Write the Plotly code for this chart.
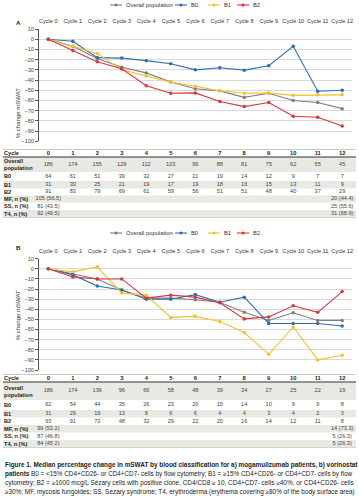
import plotly.graph_objects as go

W, H = 359, 500

# ---------------- data ----------------
cycles = list(range(13))
cycle_labels = [f"Cycle {c}" for c in cycles]
series_names = ["Overall population", "B0", "B1", "B2"]
series_colors = ["#7f7f7f", "#2e6fb4", "#f2c12e", "#d7373b"]

# Panel A (mogamulizumab) median % change in mSWAT
a_overall = [0, -7, -19, -27.5, -33, -42, -48.5, -50.6, -57, -53, -60, -62, -68]
a_b0 = [0, -2, -18, -18.5, -21, -24, -30, -28, -30.3, -26, -7, -51, -50]
a_b1 = [0, -7, -14, -30, -36, -42, -46, -50.6, -53, -52.6, -55, -54.5, -54.5]
a_b2 = [0, -11, -22, -29, -45.5, -53, -52.6, -61, -66, -62, -75.5, -76.5, -85]

# Panel B (vorinostat)
b_overall = [0, -5, -10, -21, -29, -29, -30.5, -33, -43, -51, -43.5, -51, -51]
b_b0 = [0, -6, -17, -21, -30, -30, -25.5, -33, -28, -54, -54, -54, -56.5]
b_b1 = [0, -3, 2, -24, -26, -48, -47, -52, -63, -84.5, -57.5, -90, -85.5]
b_b2 = [0, -8, -10, -10, -29, -26, -28, -33.5, -49.5, -47.5, -36.5, -43, -22.5]

y_ticks = list(range(-100, 11, 10))

# Table A
ta_overall = [186, 174, 155, 129, 112, 103, 96, 88, 81, 75, 62, 55, 45]
ta_b0 = [64, 61, 51, 39, 32, 27, 21, 19, 14, 12, 9, 7, 7]
ta_b1 = [31, 30, 25, 21, 19, 17, 19, 18, 16, 15, 13, 11, 9]
ta_b2 = [91, 83, 79, 69, 61, 59, 56, 51, 51, 48, 40, 37, 29]
ta_mf = ["105 (56.5)"] + [""] * 11 + ["20 (44.4)"]
ta_ss = ["81 (43.5)"] + [""] * 11 + ["25 (55.6)"]
ta_t4 = ["92 (49.5)"] + [""] * 11 + ["31 (68.9)"]

# Table B
tb_overall = [186, 174, 136, 96, 66, 58, 48, 39, 34, 27, 25, 22, 19]
tb_b0 = [62, 54, 44, 35, 26, 23, 20, 15, 14, 10, 9, 9, 8]
tb_b1 = [31, 29, 19, 13, 8, 6, 6, 4, 4, 3, 4, 2, 3]
tb_b2 = [93, 91, 73, 48, 32, 29, 22, 20, 16, 14, 12, 11, 8]
tb_mf = ["99 (53.2)"] + [""] * 11 + ["14 (73.3)"]
tb_ss = ["87 (46.8)"] + [""] * 11 + ["5 (26.3)"]
tb_t4 = ["84 (45.2)"] + [""] * 11 + ["5 (26.3)"]

row_labels = ["Cycle", "Overall<br>population", "B0", "B1", "B2",
              "MF, n (%)", "SS, n (%)", "T4, n (%)"]

caption_lines = [
    "<b>Figure 1. Median percentage change in mSWAT by blood classification for a) mogamulizumab patients, b) vorinostat</b>",
    "<b>patients</b> B0 = &lt;15% CD4+CD26- or CD4+CD7- cells by flow cytometry; B1 = \u226515% CD4+CD26- or CD4+CD7- cells by flow",
    "cytometry; B2 = \u22651000 mcg/L S\u00e9zary cells with positive clone, CD4/CD8 \u2265 10, CD4+CD7- cells \u226540%, or CD4+CD26- cells",
    "\u226530%; MF, mycosis fungoides; SS, S\u00e9zary syndrome; T4, erythroderma (erythema covering \u226580% of the body surface area)",
]

# ---------------- layout constants (pixels) ----------------
FONT = "Liberation Sans, Arial, sans-serif"
X_LEFT, X_RIGHT = 39, 352
X_RANGE = [-0.38, 12.4]
A_TOP, A_BOT = 29, 141.3
B_TOP, B_BOT = 258.7, 370
TA_EDGES = [149.5, 157, 172, 181, 188.5, 195.5, 202.5, 210, 217.5]
TB_EDGES = [374.5, 382, 400, 410, 417.5, 425, 432.5, 440, 447.5]
CAPTION_Y = [465, 474, 483, 492]
CAPTION_SIZE = [6.4, 6.35, 6.45, 6.4]
LEGEND_Y = [5, 233]
LEGEND_KEY_X = [110, 175, 208, 237]   # left end of each legend key line
KEY_LEN = 12


def py(px):
    return 1 - px / H


def px_x(px):
    return px / W


fig = go.Figure()

# ---------------- line charts ----------------
for xa, ya, data in [
    ("x", "y", [a_overall, a_b0, a_b1, a_b2]),
    ("x2", "y2", [b_overall, b_b0, b_b1, b_b2]),
]:
    for name, col, vals in zip(series_names, series_colors, data):
        fig.add_trace(go.Scatter(
            x=cycles, y=vals, name=name, mode="lines+markers",
            line=dict(color=col, width=1.1),
            marker=dict(color=col, size=3.5),
            xaxis=xa, yaxis=ya, showlegend=False, hoverinfo="skip",
        ))

xcommon = dict(domain=[px_x(X_LEFT), px_x(X_RIGHT)], range=X_RANGE, side="top",
               tickvals=cycles, ticktext=cycle_labels, showgrid=False, zeroline=False,
               showline=False, ticks="", ticklabelstandoff=4, tickangle=0, automargin=False,
               tickfont=dict(size=5.6, color="#333", family=FONT), fixedrange=True)
ycommon = dict(range=[-100, 10], tickvals=y_ticks, showgrid=True, gridcolor="#d9d9d9",
               gridwidth=0.8, zeroline=False, showline=True, linecolor="#555", linewidth=0.8,
               ticks="outside", ticklen=3, tickcolor="#555", tickwidth=0.8, automargin=False,
               tickfont=dict(size=5.6, color="#444", family=FONT), fixedrange=True)

fig.update_layout(
    xaxis=dict(**xcommon, anchor="y"),
    yaxis=dict(**ycommon, domain=[py(A_BOT), py(A_TOP)], anchor="x"),
    xaxis2=dict(**xcommon, anchor="y2"),
    yaxis2=dict(**ycommon, domain=[py(B_BOT), py(B_TOP)], anchor="x2"),
)

annotations = []
shapes = []

# ---------------- legends (one per panel) ----------------
for ly in LEGEND_Y:
    for name, col, kx in zip(series_names, series_colors, LEGEND_KEY_X):
        shapes.append(dict(type="line", xref="paper", yref="paper",
                           x0=px_x(kx), x1=px_x(kx + KEY_LEN), y0=py(ly), y1=py(ly),
                           line=dict(color=col, width=1.1)))
        cx = kx + KEY_LEN / 2
        shapes.append(dict(type="circle", xref="paper", yref="paper",
                           x0=px_x(cx - 1.6), x1=px_x(cx + 1.6), y0=py(ly + 1.6), y1=py(ly - 1.6),
                           fillcolor=col, line=dict(width=0)))
        annotations.append(dict(x=px_x(kx + KEY_LEN + 2), y=py(ly), xref="paper", yref="paper",
                                xanchor="left", yanchor="middle", text=name, showarrow=False,
                                font=dict(size=5.8, color="#333", family=FONT)))

# ---------------- tables ----------------
tables = [
    ("x3", "y3", "xaxis3", "yaxis3", TA_EDGES,
     [ta_overall, ta_b0, ta_b1, ta_b2, ta_mf, ta_ss, ta_t4]),
    ("x4", "y4", "xaxis4", "yaxis4", TB_EDGES,
     [tb_overall, tb_b0, tb_b1, tb_b2, tb_mf, tb_ss, tb_t4]),
]
for xa, ya, xkey, ykey, edges, rows in tables:
    centers = [(edges[i] + edges[i + 1]) / 2 for i in range(len(edges) - 1)]
    fig.update_layout(**{
        xkey: dict(domain=[px_x(X_LEFT), px_x(X_RIGHT)], range=X_RANGE, visible=False,
                   anchor=ya, fixedrange=True, automargin=False),
        ykey: dict(domain=[py(edges[-1]), py(edges[0])], range=[edges[-1], edges[0]],
                   visible=False, anchor=xa, fixedrange=True, automargin=False),
    })
    for r in (1, 3, 5, 7):
        shapes.append(dict(type="rect", xref="paper", x0=px_x(3), x1=px_x(356),
                           yref=ya, y0=edges[r], y1=edges[r + 1],
                           fillcolor="#e9e9e3", line=dict(width=0), layer="below"))
    shapes.append(dict(type="line", xref="paper", x0=px_x(3), x1=px_x(356), yref=ya,
                       y0=edges[0], y1=edges[0], line=dict(color="#666", width=0.7)))
    shapes.append(dict(type="line", xref="paper", x0=px_x(3), x1=px_x(356), yref=ya,
                       y0=edges[1], y1=edges[1], line=dict(color="#333", width=1.2)))
    shapes.append(dict(type="line", xref="paper", x0=px_x(3), x1=px_x(356), yref=ya,
                       y0=edges[-1], y1=edges[-1], line=dict(color="#888", width=0.7)))
    # header numbers
    fig.add_trace(go.Scatter(
        x=cycles, y=[centers[0]] * len(cycles), text=[f"<b>{c}</b>" for c in cycles],
        mode="text", textfont=dict(size=5.8, color="#222", family=FONT),
        xaxis=xa, yaxis=ya, showlegend=False, hoverinfo="skip", cliponaxis=False,
    ))
    xs, ys, ts = [], [], []
    for r, vals in enumerate(rows, start=1):
        for c, v in zip(cycles, vals):
            xs.append(c)
            ys.append(centers[r])
            ts.append(str(v))
    fig.add_trace(go.Scatter(
        x=xs, y=ys, text=ts, mode="text",
        textfont=dict(size=5.6, color="#444", family=FONT),
        xaxis=xa, yaxis=ya, showlegend=False, hoverinfo="skip", cliponaxis=False,
    ))
    for r, lab in enumerate(row_labels):
        annotations.append(dict(
            x=px_x(3), xref="paper", xanchor="left", y=centers[r], yref=ya, yanchor="middle",
            text=f"<b>{lab}</b>", showarrow=False, align="left",
            font=dict(size=5.6, color="#222", family=FONT), borderpad=0,
        ))

# panel letters and axis titles
for letter, ypx in (("A", 17), ("B", 247)):
    annotations.append(dict(x=px_x(14), y=py(ypx), xref="paper", yref="paper",
                            text=f"<b>{letter}</b>", showarrow=False,
                            font=dict(size=6.2, color="#222", family=FONT)))
for top, bot in ((A_TOP, A_BOT), (B_TOP, B_BOT)):
    annotations.append(dict(x=px_x(13), y=py((top + bot) / 2 + 1), xref="paper", yref="paper",
                            text="% change mSWAT", textangle=-90, showarrow=False,
                            font=dict(size=6, color="#333", family=FONT)))

# caption
for i, line in enumerate(caption_lines):
    annotations.append(dict(x=px_x(3), y=py(CAPTION_Y[i]), xref="paper", yref="paper",
                            xanchor="left", yanchor="middle", text=line, showarrow=False,
                            align="left",
                            font=dict(size=CAPTION_SIZE[i], color="#222", family=FONT)))

fig.update_layout(
    template="none",
    width=W, height=H, margin=dict(l=0, r=0, t=0, b=0, autoexpand=False),
    paper_bgcolor="white", plot_bgcolor="white",
    font=dict(family=FONT), showlegend=False,
    annotations=annotations, shapes=shapes,
)

fig.write_html("out.html", include_plotlyjs=True, config={"displayModeBar": False},
               post_script="document.body.style.margin='0px';document.body.style.overflow='hidden';")
